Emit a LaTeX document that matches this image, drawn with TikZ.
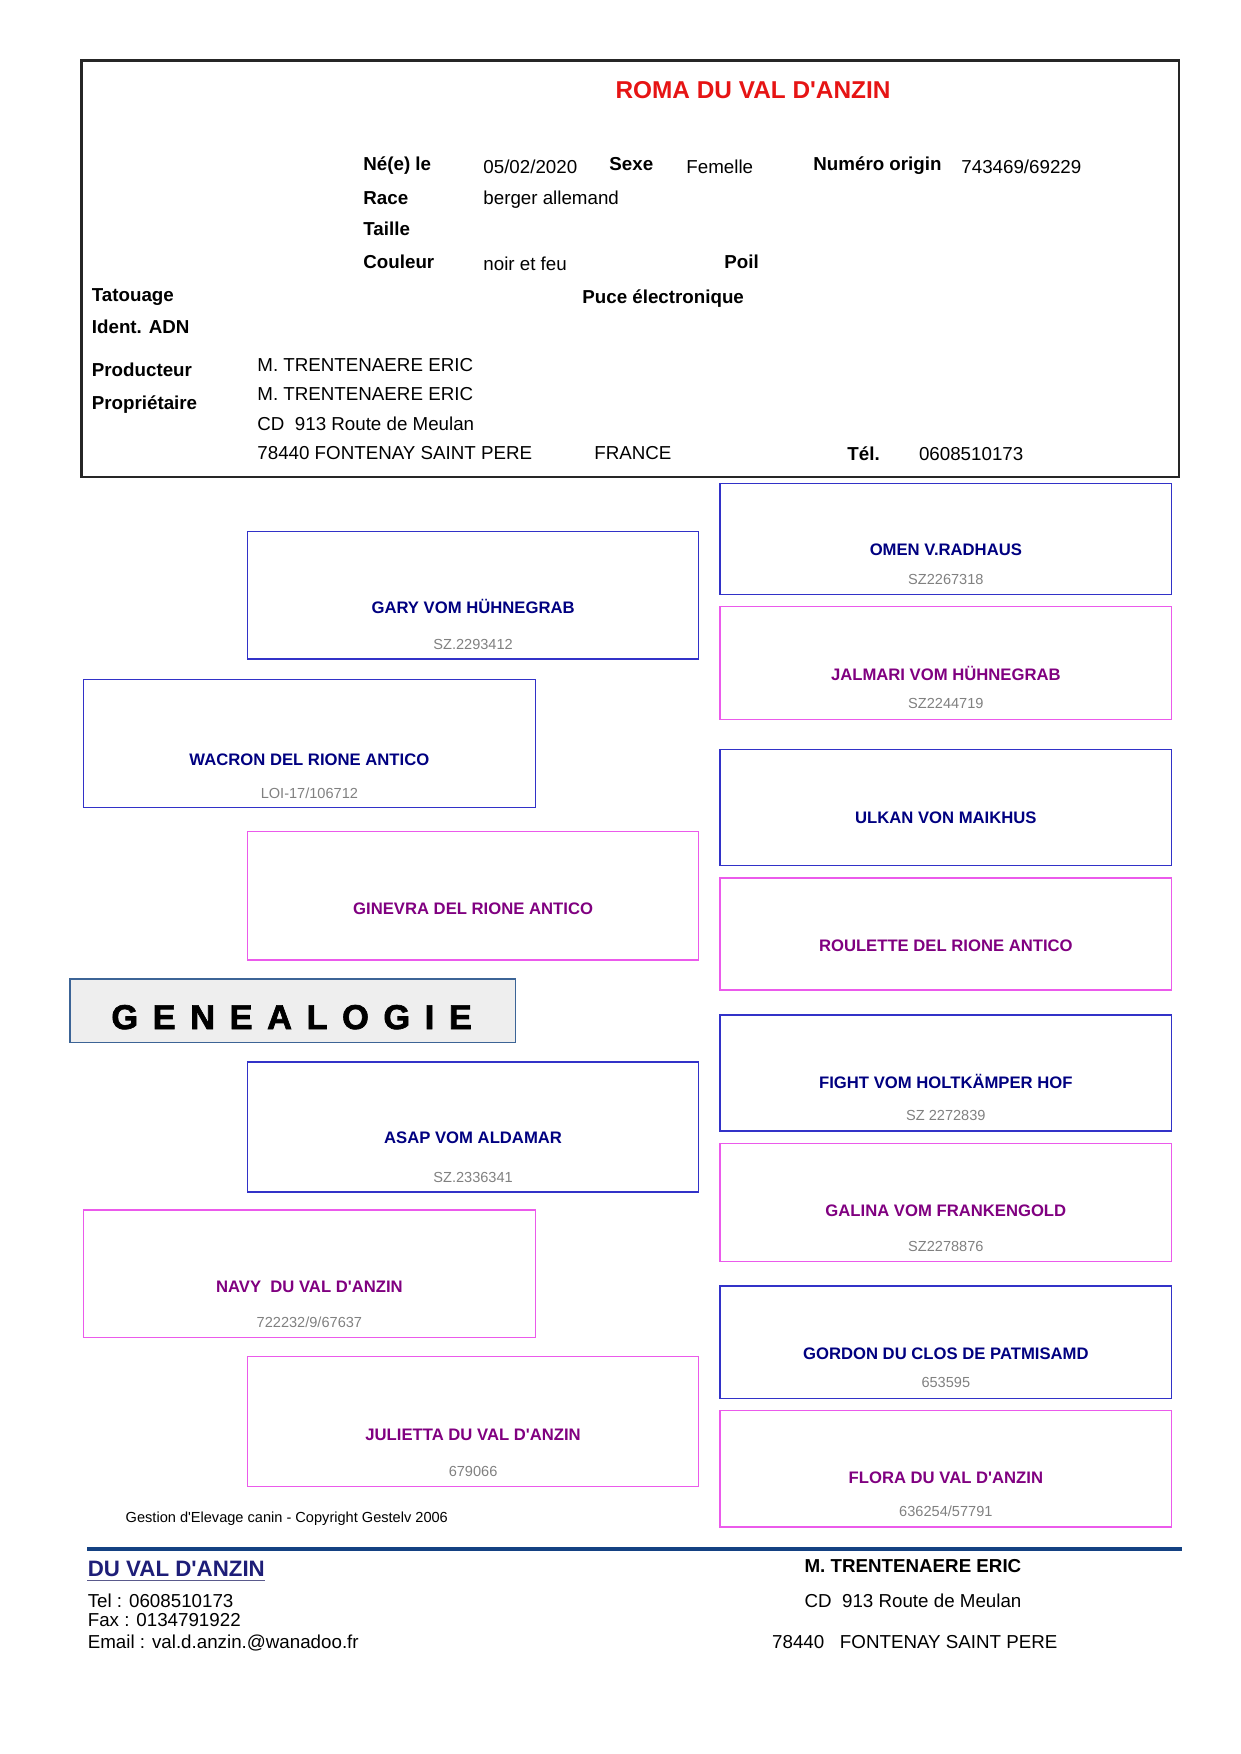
\documentclass[tikz,border=0pt]{standalone}
\usepackage{fontspec}
\setmainfont{Liberation Sans}
\newfontfamily\genfont{Liberation Sans}[BoldFont={Liberation Sans Bold}, BoldFeatures={FakeBold=2}]
\usetikzlibrary{fit}
\definecolor{mborder}{RGB}{50,50,200}
\definecolor{fborder}{RGB}{235,90,235}
\definecolor{mtext}{RGB}{0,0,128}
\definecolor{ftext}{RGB}{128,0,128}
\definecolor{idtext}{RGB}{128,128,128}
\definecolor{titlered}{RGB}{230,20,20}
\definecolor{genfill}{RGB}{238,238,238}
\definecolor{genborder}{RGB}{60,100,150}
\definecolor{footblue}{RGB}{20,65,130}
\definecolor{navytext}{RGB}{30,30,120}
\definecolor{ulcol}{RGB}{90,90,140}
\newcommand\wideSpaces{\spaceskip=7.0pt\relax}
\newcommand\apo{\textquotesingle}
\tikzset{
  lbl/.style={anchor=base west, inner sep=0pt, font=\fontsize{9}{10}\selectfont\bfseries},
  val/.style={anchor=base west, inner sep=0pt, font=\fontsize{9}{10}\selectfont},
  mbox/.style={draw=mborder, line width=0.7pt, inner sep=0pt},
  fbox/.style={draw=fborder, line width=0.7pt, inner sep=0pt},
  mname/.style={anchor=base, inner sep=0pt, text=mtext, font=\fontsize{8}{9}\selectfont\bfseries},
  fname/.style={anchor=base, inner sep=0pt, text=ftext, font=\fontsize{8}{9}\selectfont\bfseries},
  idno/.style={anchor=base, inner sep=0pt, text=idtext, font=\fontsize{7}{8}\selectfont},
}
\begin{document}
\begin{tikzpicture}[x=0.48pt, y=-0.48pt]
\useasboundingbox (0,0) rectangle (1241,1754);
% header box
\node[draw=black!85, line width=1.2pt, inner sep=0pt, fit={(81.5,60.7) (1179,477)}] (header) {};
\node[anchor=base, inner sep=0pt, text=titlered, font=\fontsize{11.7}{13}\selectfont\bfseries] (title) at (753,98) {ROMA DU VAL D\apo ANZIN};
\node[lbl] (l1) at (363,170.5) {Né(e) le};
\node[val] (v1) at (483,173) {05/02/2020};
\node[lbl] (l2) at (609,170.5) {Sexe};
\node[val] (v2) at (686,173) {Femelle};
\node[lbl] (l3) at (813,170.5) {Numéro origin};
\node[val] (v3) at (961,173) {743469/69229};
\node[lbl] (l4) at (363,204) {Race};
\node[val] (v4) at (483,204) {berger allemand};
\node[lbl] (l5) at (363,235.7) {Taille};
\node[lbl] (l6) at (363,268.4) {Couleur};
\node[val] (v6) at (483,270) {noir et feu};
\node[lbl] (l7) at (724,268.4) {Poil};
\node[lbl] (l8) at (91.5,301.7) {Tatouage};
\node[lbl] (l9) at (582,303) {Puce électronique};
\node[lbl] (l10) at (91.5,333.3) {Ident. ADN};
\node[lbl] (l11) at (91.5,376.7) {Producteur};
\node[lbl] (l12) at (91.5,409) {Propriétaire};
\node[val] (v11) at (257,371.7) {M. TRENTENAERE ERIC};
\node[val] (v12) at (257,400.7) {M. TRENTENAERE ERIC};
\node[val] (v13) at (257,430) {CD~ 913 Route de Meulan};
\node[val] (v14) at (257,459.3) {78440 FONTENAY SAINT PERE};
\node[val] (v15) at (594,459.3) {FRANCE};
\node[lbl] (l16) at (847,460) {Tél.};
\node[val] (v16) at (918.6,460) {0608510173};
% left column boxes
\node[mbox, fit={(247.6,531.7) (698.6,659)}] (gary) {};
\node[mname] (garyN) at (473.1,613) {GARY VOM HÜHNEGRAB};
\node[idno] (garyI) at (473.1,649) {SZ.2293412};
\node[mbox, fit={(83.5,679.3) (535.3,807.3)}] (wacron) {};
\node[mname] (wacronN) at (309.4,765.2) {WACRON DEL RIONE ANTICO};
\node[idno] (wacronI) at (309.4,798) {LOI-17/106712};
\node[fbox, fit={(247.6,831.7) (698.6,960)}] (ginevra) {};
\node[fname] (ginevraN) at (473.1,914) {GINEVRA DEL RIONE ANTICO};
\node[draw=genborder, fill=genfill, line width=0.7pt, inner sep=0pt, fit={(70,978.8) (515.6,1042.6)}] (genbox) {};
\node[anchor=base west, inner sep=0pt, font={\genfont\fontsize{16.5}{18}\selectfont\bfseries}] (gen) at (111,1029) {\wideSpaces G E N E A L O G I E};
\node[mbox, fit={(247.6,1061.9) (698.6,1191.8)}] (asap) {};
\node[mname] (asapN) at (473.1,1143.9) {ASAP VOM ALDAMAR};
\node[idno] (asapI) at (473.1,1182) {SZ.2336341};
\node[fbox, fit={(83.5,1210) (535.3,1337.7)}] (navy) {};
\node[fname] (navyN) at (309.4,1292.1) {NAVY~ DU VAL D\apo ANZIN};
\node[idno] (navyI) at (309.4,1327.8) {722232/9/67637};
\node[fbox, fit={(247.6,1356.7) (698.6,1486.5)}] (julietta) {};
\node[fname] (juliettaN) at (473.1,1440.4) {JULIETTA DU VAL D\apo ANZIN};
\node[idno] (juliettaI) at (473.1,1476.1) {679066};
% right column boxes
\node[mbox, fit={(720,483.3) (1171.7,594.3)}] (omen) {};
\node[mname] (omenN) at (945.85,555) {OMEN V.RADHAUS};
\node[idno] (omenI) at (945.85,584.5) {SZ2267318};
\node[fbox, fit={(720,606.7) (1171.7,719.3)}] (jalmari) {};
\node[fname] (jalmariN) at (945.85,680) {JALMARI VOM HÜHNEGRAB};
\node[idno] (jalmariI) at (945.85,708.5) {SZ2244719};
\node[mbox, fit={(720,749.3) (1171.7,865.7)}] (ulkan) {};
\node[mname] (ulkanN) at (945.85,823.3) {ULKAN VON MAIKHUS};
\node[fbox, fit={(720,878) (1171.7,990)}] (roulette) {};
\node[fname] (rouletteN) at (945.85,951) {ROULETTE DEL RIONE ANTICO};
\node[mbox, fit={(720,1014.8) (1171.7,1130.9)}] (fight) {};
\node[mname] (fightN) at (945.85,1088) {FIGHT VOM HOLTKÄMPER HOF};
\node[idno] (fightI) at (945.85,1120.6) {SZ 2272839};
\node[fbox, fit={(720,1143.6) (1171.7,1261.7)}] (galina) {};
\node[fname] (galinaN) at (945.85,1216.9) {GALINA VOM FRANKENGOLD};
\node[idno] (galinaI) at (945.85,1251.9) {SZ2278876};
\node[mbox, fit={(720,1285.8) (1171.7,1398.4)}] (gordon) {};
\node[mname] (gordonN) at (945.85,1359.8) {GORDON DU CLOS DE PATMISAMD};
\node[idno] (gordonI) at (945.85,1387.6) {653595};
\node[fbox, fit={(720,1410.5) (1171.7,1526.9)}] (flora) {};
\node[fname] (floraN) at (945.85,1483.8) {FLORA DU VAL D\apo ANZIN};
\node[idno] (floraI) at (945.85,1516.6) {636254/57791};
% footer
\node[anchor=base west, inner sep=0pt, font=\fontsize{7}{8}\selectfont] (copy) at (125.3,1522) {Gestion d\apo Elevage canin - Copyright Gestelv 2006};
\coordinate (ls) at (87,1549);
\coordinate (le) at (1182,1549);
\draw[footblue, line width=2pt] (ls) -- (le);
\node[anchor=base west, inner sep=0pt, text=navytext, font=\fontsize{10.7}{12}\selectfont\bfseries] (duval) at (87.4,1576.7) {DU VAL D\apo ANZIN};
\draw[ulcol, line width=0.8pt] ([yshift=-1.8pt]duval.base west) -- ([yshift=-1.8pt]duval.base east);
\node[val] (tel) at (87.4,1607.5) {Tel : 0608510173};
\node[val] (fax) at (87.4,1626) {Fax : 0134791922};
\node[val] (mail) at (87.4,1648.5) {Email : val.d.anzin.@wanadoo.fr};
\node[lbl] (fown) at (804.2,1572) {M. TRENTENAERE ERIC};
\node[val] (fadr) at (804.2,1607) {CD~ 913 Route de Meulan};
\node[val] (fcity) at (771.8,1648) {78440~ ~FONTENAY SAINT PERE};
\end{tikzpicture}
\end{document}
